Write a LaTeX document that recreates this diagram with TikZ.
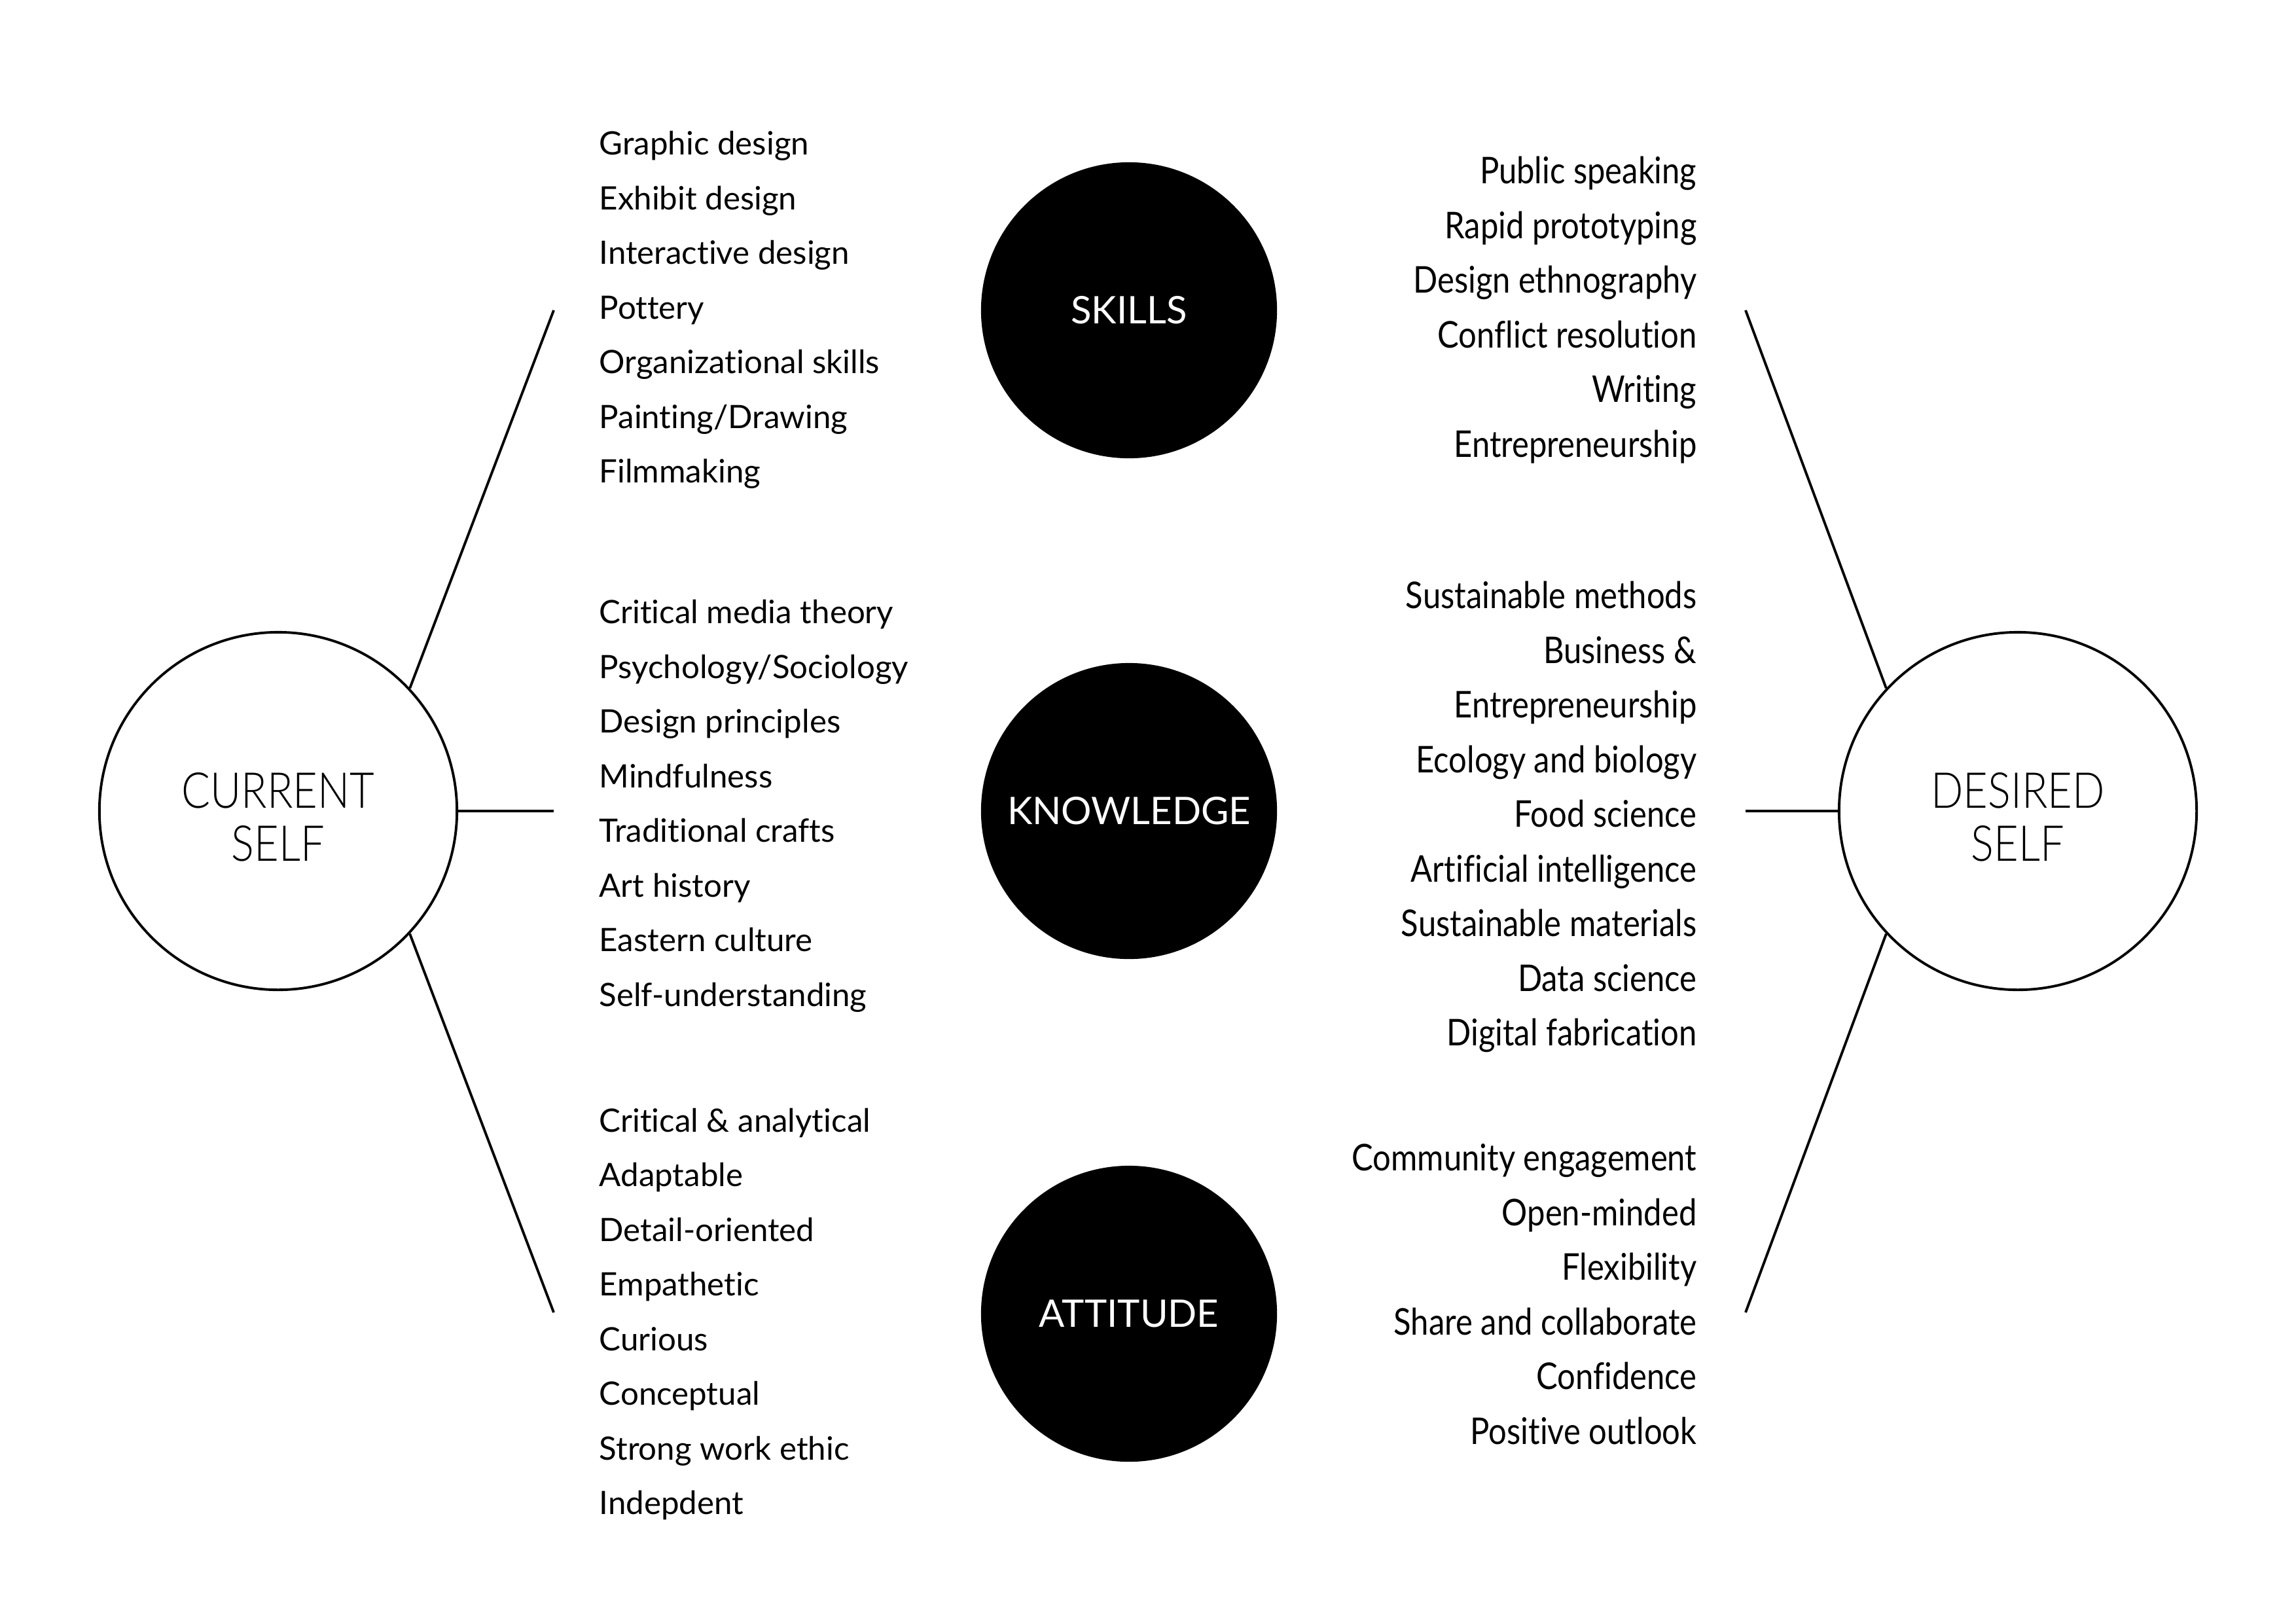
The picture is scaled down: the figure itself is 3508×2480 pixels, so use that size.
\documentclass[tikz,border=0pt]{standalone}
\usepackage{fontspec}
\setmainfont{Lato}[Ligatures={NoCommon}]
\newfontfamily\rightfont{Lato}[FakeStretch=0.87, Ligatures={NoCommon}]
\newfontfamily\circfont{Lato Light}[FakeStretch=0.86]
\tikzset{
  selfcircle/.style={circle, draw, line width=1.1pt, minimum size=5.46cm, inner sep=0pt},
  selftext/.style={align=center, inner sep=0pt, font=\circfont\fontsize{21.5}{23}\selectfont},
  topic/.style={circle, fill=black, minimum size=4.52cm, inner sep=0pt, text=white,
    font=\fontsize{16.5}{18}\selectfont},
  litem/.style={anchor=mid west, inner sep=0pt, font=\fontsize{14}{16}\selectfont},
  ritem/.style={anchor=mid east, inner sep=0pt, font=\rightfont\fontsize{16}{18}\selectfont},
  conn/.style={line width=1.1pt}
}
\begin{document}
\begin{tikzpicture}[x=0.01cm, y=-0.01cm]
\useasboundingbox[fill=white] (0,0) rectangle (3508,2480);

% main circles
\node[selfcircle] (cur) at (425,1239) {};
\node[selftext] (curtxt) at (425,1248) {CURRENT\\SELF};
\node[selfcircle] (des) at (3083,1239) {};
\node[selftext] (destxt) at (3083,1248) {DESIRED\\SELF};
\node[topic] (skills) at (1725,474) {SKILLS};
\node[topic] (know) at (1725,1239) {KNOWLEDGE};
\node[topic] (att) at (1725,2007) {ATTITUDE};

% free ends of connectors
\coordinate (l1) at (846,474);
\coordinate (l2) at (846,1239);
\coordinate (l3) at (846,2005);
\coordinate (r1) at (2667,474);
\coordinate (r2) at (2667,1239);
\coordinate (r3) at (2667,2005);

\draw[conn] (cur.43) -- (l1);
\draw[conn] (cur.east) -- (l2);
\draw[conn] (cur.-43) -- (l3);
\draw[conn] (des.137) -- (r1);
\draw[conn] (des.west) -- (r2);
\draw[conn] (des.223) -- (r3);

% left lists
\foreach \t [count=\i] in {Graphic design, Exhibit design, Interactive design, Pottery,
  Organizational skills, Painting/Drawing, Filmmaking}
  \node[litem] (ls\i) at (915, {228+83.5*(\i-1)}) {\t};
\foreach \t [count=\i] in {Critical media theory, Psychology/Sociology, Design principles,
  Mindfulness, Traditional crafts, Art history, Eastern culture, Self-understanding}
  \node[litem] (lk\i) at (915, {944+83.5*(\i-1)}) {\t};
\foreach \t [count=\i] in {Critical \& analytical, Adaptable, Detail-oriented, Empathetic,
  Curious, Conceptual, Strong work ethic, Indepdent}
  \node[litem] (la\i) at (915, {1720.5+83.5*(\i-1)}) {\t};

% right lists
\foreach \t [count=\i] in {Public speaking, Rapid prototyping, Design ethnography,
  Conflict resolution, Writing, Entrepreneurship}
  \node[ritem] (rs\i) at (2593, {272+83.5*(\i-1)}) {\t};
\foreach \t [count=\i] in {Sustainable methods, Business \&, Entrepreneurship,
  Ecology and biology, Food science, Artificial intelligence, Sustainable materials,
  Data science, Digital fabrication}
  \node[ritem] (rk\i) at (2593, {921+83.5*(\i-1)}) {\t};
\foreach \t [count=\i] in {Community engagement, Open-minded, Flexibility,
  Share and collaborate, Confidence, Positive outlook}
  \node[ritem] (ra\i) at (2593, {1780+83.5*(\i-1)}) {\t};
\end{tikzpicture}
\end{document}
